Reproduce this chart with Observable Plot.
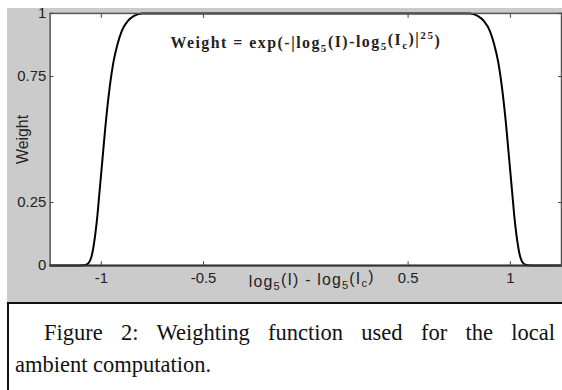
<!DOCTYPE html>
<html>
<head>
<meta charset="utf-8">
<script src="https://cdn.jsdelivr.net/npm/d3@7"></script>
<script src="https://cdn.jsdelivr.net/npm/@observablehq/plot@0.6"></script>
<style>
  html, body { margin: 0; padding: 0; background: #fff; }
  #wrap { position: relative; width: 562px; height: 390px; background: #fff; overflow: hidden; }
  #panel { position: absolute; left: 7px; top: 8px; width: 555px; height: 294px; background: #cbcbcb; overflow: hidden; }
  #chart { position: absolute; left: -7px; top: -8px; }
  #cap { position: absolute; left: 7px; top: 302px; width: 555px; height: 88px; box-sizing: border-box;
         border-top: 2px solid #111; border-left: 2px solid #111; background: #fff;
         padding: 13px 7px 0 6px; font-family: "Liberation Serif", "Times New Roman", serif;
         font-size: 22.5px; line-height: 32px; color: #111; }
  #cap .l1 { text-indent: 29px; text-align: justify; text-align-last: justify; white-space: nowrap; }
</style>
</head>
<body>
<div id="wrap">
  <div id="panel"><div id="chart"></div></div>
  <div id="cap">
    <div class="l1">Figure 2: Weighting function used for the local</div>
    <div>ambient computation.</div>
  </div>
</div>
<script>
// values
const xs = [-1.25, -1.12, -1.09, -1.07, -1.05, -1.03, -1.02, -1.01, -1.0, -0.99, -0.98, -0.96, -0.94, -0.92, -0.90, -0.87, -0.84, -0.80, -0.75,
            0,
            0.75, 0.80, 0.84, 0.87, 0.90, 0.92, 0.94, 0.96, 0.98, 0.99, 1.0, 1.01, 1.02, 1.03, 1.05, 1.07, 1.09, 1.12, 1.25];
const weights = [0, 0, 0.001, 0.005, 0.03, 0.12, 0.19, 0.28, 0.37, 0.46, 0.55, 0.70, 0.81, 0.88, 0.93, 0.97, 0.99, 1, 1,
                 1,
                 1, 1, 0.99, 0.97, 0.93, 0.88, 0.81, 0.70, 0.55, 0.46, 0.37, 0.28, 0.19, 0.12, 0.03, 0.005, 0.001, 0, 0];
const xTicks = [-1, -0.5, 0.5, 1];
const xTickLabels = ["-1", "-0.5", "0.5", "1"];
const yTicks = [0, 0.25, 0.75, 1];
const yTickLabels = ["0", "0.25", "0.75", "1"];
const xLabel = "log_5(I) - log_5(I_c)";
const yLabel = "Weight";
const formula = "Weight = exp(-|log_5(I)-log_5(I_c)|^{25})";

const data = xs.map((x, i) => ({x, w: weights[i]}));

const sans = "'Liberation Sans', Arial, sans-serif";
const chart = Plot.plot({
  width: 566,
  height: 300,
  marginTop: 13,
  marginBottom: 33,
  marginLeft: 50,
  marginRight: 1,
  x: {domain: [-1.25, 1.25], axis: null},
  y: {domain: [0, 1], axis: null},
  style: {background: "transparent", fontFamily: sans, fontSize: "15px", color: "#222", overflow: "visible"},
  marks: [
    Plot.frame({fill: "white"}),
    Plot.line(data, {x: "x", y: "w", stroke: "#000", strokeWidth: 2, curve: "monotone-x"}),
    Plot.frame({stroke: "#555", strokeWidth: 1.5}),
    Plot.ruleY([0], {stroke: "#333", strokeWidth: 2}),
    Plot.axisX(xTicks, {anchor: "bottom", label: null, tickSize: -4, tickPadding: 11, stroke: "#444", fill: "#222",
      fontSize: 15, tickFormat: d => xTickLabels[xTicks.indexOf(d)]}),
    Plot.axisX(xTicks, {anchor: "top", label: null, tickSize: -4, stroke: "#444", tickFormat: () => ""}),
    Plot.axisY(yTicks, {anchor: "left", label: null, tickSize: -4, tickPadding: 8, stroke: "#444", fill: "#222",
      fontSize: 15, tickFormat: d => yTickLabels[yTicks.indexOf(d)]}),
    Plot.axisY(yTicks, {anchor: "right", label: null, tickSize: -4, stroke: "#444", tickFormat: () => ""}),
    Plot.text([yLabel], {frameAnchor: "left", textAnchor: "middle", lineAnchor: "middle", dx: -27, rotate: -90, fill: "#222", fontSize: 16}),
    Plot.text([xLabel], {frameAnchor: "bottom", lineAnchor: "middle", dx: 6, dy: 16, fill: "#222", fontSize: 16, className: "richlab"}),
    Plot.text([formula], {frameAnchor: "top", lineAnchor: "middle", dy: 30, fill: "#222", fontSize: 16, fontWeight: "bold",
      fontFamily: "'Liberation Serif', 'Times New Roman', serif", className: "richlab formula"})
  ]
});
document.getElementById("chart").appendChild(chart);

// render _x as subscript and ^{..} as superscript
function rich(textEl) {
  const s = textEl.textContent;
  const segs = [];
  let i = 0, buf = "";
  while (i < s.length) {
    const c = s[i];
    if (c === "_" || c === "^") {
      if (buf) { segs.push({t: buf, k: "n"}); buf = ""; }
      let v;
      if (s[i + 1] === "{") { const j = s.indexOf("}", i); v = s.slice(i + 2, j); i = j + 1; }
      else { v = s[i + 1]; i += 2; }
      segs.push({t: v, k: c === "_" ? "sub" : "sup"});
    } else { buf += c; i++; }
  }
  if (buf) segs.push({t: buf, k: "n"});
  textEl.textContent = "";
  const ns = "http://www.w3.org/2000/svg";
  let shift = 0;
  for (const sg of segs) {
    const ts = document.createElementNS(ns, "tspan");
    const target = sg.k === "sub" ? 0.32 : sg.k === "sup" ? -0.45 : 0;
    const dyv = target - shift;
    if (dyv !== 0) ts.setAttribute("dy", dyv + "em");
    shift = target;
    if (sg.k !== "n") ts.setAttribute("font-size", "70%");
    ts.textContent = sg.t;
    textEl.appendChild(ts);
  }
}
chart.querySelectorAll("g.richlab text").forEach(t => {
  t.style.letterSpacing = t.closest("g.formula") ? "1.5px" : "1.2px";
  rich(t);
});
</script>
</body>
</html>
